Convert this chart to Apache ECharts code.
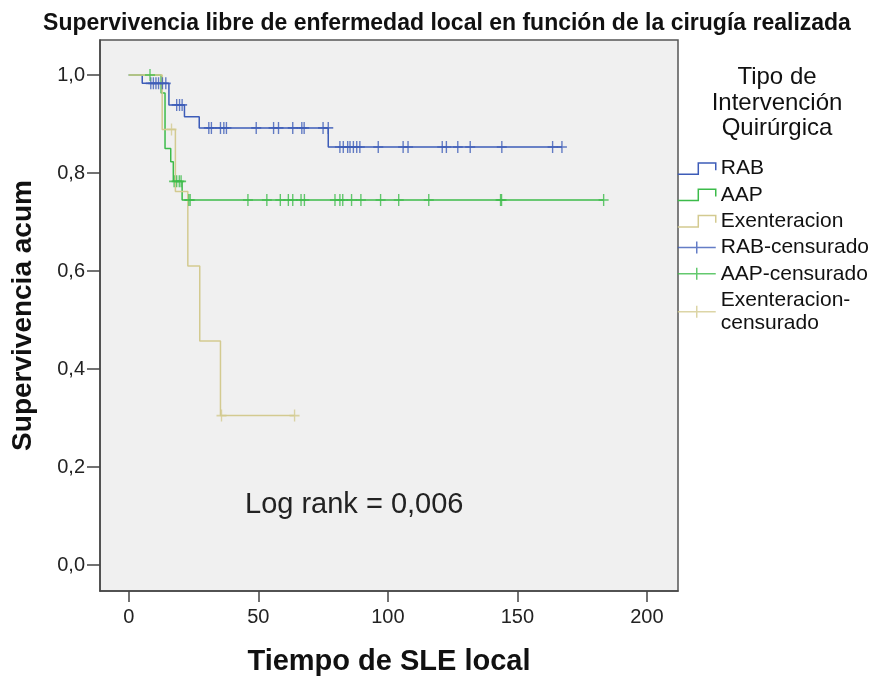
<!DOCTYPE html>
<html><head><meta charset="utf-8">
<script src="https://cdn.jsdelivr.net/npm/echarts@6/dist/echarts.min.js"></script>
<style>html,body{margin:0;padding:0;background:#fff}#c{width:880px;height:680px}</style>
</head><body><div id="c"></div>
<script>
// Kaplan-Meier step curves: [time, survival]
const rabCurve = [[0,1],[5.2,0.983],[15.5,0.939],[21.5,0.915],[27.2,0.892],[77,0.853],[167.2,0.853]];
const aapCurve = [[0,1],[12.5,0.963],[14,0.85],[16.2,0.823],[17.2,0.783],[20.6,0.745],[183.3,0.745]];
const exeCurve = [[0,1],[12.9,0.889],[18,0.762],[22.8,0.61],[27.4,0.457],[35.4,0.305],[64,0.305]];
// Censored observations: [time, survival]
const rabCensored = [[8.5,0.983],[9.5,0.983],[10.5,0.983],[11.5,0.983],[13,0.983],[14.3,0.983],
  [18.5,0.939],[19.6,0.939],[20.6,0.939],
  [30.9,0.892],[31.9,0.892],[35.4,0.892],[36.7,0.892],[37.7,0.892],[49.2,0.892],[55.9,0.892],[57.8,0.892],
  [63.3,0.892],[66.8,0.892],[67.7,0.892],[75,0.892],[77,0.892],
  [81.5,0.853],[82.8,0.853],[84.5,0.853],[85.4,0.853],[86.7,0.853],[88,0.853],[89.2,0.853],[96.3,0.853],
  [105.9,0.853],[107.8,0.853],[121,0.853],[122.6,0.853],[127,0.853],[131.8,0.853],[144,0.853],[163.6,0.853],[167.2,0.853]];
const aapCensored = [[8.2,1],[17.5,0.783],[18.5,0.783],[19.5,0.783],[20.2,0.783],
  [23.2,0.745],[23.7,0.745],[46,0.745],[53.3,0.745],[58.5,0.745],[61.6,0.745],[63.3,0.745],[66.5,0.745],[67.8,0.745],
  [79.6,0.745],[81.5,0.745],[82.6,0.745],[86,0.745],[89.6,0.745],[97.2,0.745],[104.2,0.745],[115.8,0.745],
  [143.5,0.745],[143.9,0.745],[183.3,0.745]];
const exeCensored = [[16.5,0.889],[35.8,0.305],[64,0.305]];
const xTicks = [0,50,100,150,200];
const yTicks = [0,0.2,0.4,0.6,0.8,1.0];
const seriesNames = ['RAB','AAP','Exenteracion','RAB-censurado','AAP-censurado','Exenteracion-censurado'];

const colors = {RAB:'#3d5cb8', AAP:'#3cbb4a', EXE:'#d3ca90'};
const sans = '"Liberation Sans",Arial,sans-serif';
const stepIcon = 'path://M0,11 L20,11 L20,0 L37,0 L37,7';
const plusIcon = 'path://M0,6 L38,6 M19,0 L19,12';
const plusSym = 'path://M0,6 L10,6 M5,0 L5,12';

const chart = echarts.init(document.getElementById('c'), null, {renderer:'canvas'});
function lineSeries(name, data, color){
  return {name, type:'line', step:'end', data, showSymbol:false, symbol:'none',
    lineStyle:{color, width:1.5}, itemStyle:{color}, z:2, animation:false};
}
function censSeries(name, data, color){
  return {name, type:'scatter', data, symbol:plusSym, symbolSize:[10,12],
    itemStyle:{color:'transparent', borderColor:color, borderWidth:1.5}, z:3, animation:false};
}
const legendColors = [colors.RAB, colors.AAP, colors.EXE, colors.RAB, colors.AAP, colors.EXE];
chart.setOption({
  backgroundColor:'#ffffff',
  title:[{text:'Supervivencia libre de enfermedad local en función de la cirugía realizada', left:442, top:7, textAlign:'center',
      textStyle:{fontFamily:sans, fontWeight:'bold', fontSize:23, color:'#111'}},
    {text:'Tipo de\nIntervención\nQuirúrgica', left:777, top:65, textAlign:'center', padding:0,
      textStyle:{fontFamily:sans, fontWeight:'normal', fontSize:24, lineHeight:25.5, color:'#111'}}],
  grid:{left:100, right:202, top:40, bottom:89, containLabel:false, outerBoundsMode:'none',
    show:true, backgroundColor:'#f0f0f0', borderColor:'#555', borderWidth:1.5},
  legend:{orient:'vertical', left:677, top:157, padding:0, itemWidth:38, itemHeight:12, itemGap:3,
    textStyle:{fontFamily:sans, fontSize:21, color:'#111', lineHeight:23.3},
    formatter: n => n === 'Exenteracion-censurado' ? 'Exenteracion-\ncensurado' : n,
    data: seriesNames.map((n,i)=>({name:n, icon: i<3 ? stepIcon : plusIcon,
      itemStyle:{color:'transparent', borderColor:legendColors[i], borderWidth:1.5}}))},
  xAxis:{type:'value', min:-11.1, max:212, name:'Tiempo de SLE local', nameLocation:'middle', nameGap:56,
    nameTextStyle:{fontFamily:sans, fontWeight:'bold', fontSize:29, color:'#111'},
    splitLine:{show:false},
    axisLine:{show:true, onZero:false, lineStyle:{color:'#444', width:1.5}},
    axisTick:{show:true, length:11, customValues:xTicks, lineStyle:{color:'#444', width:1.5}},
    axisLabel:{customValues:xTicks, margin:16, fontFamily:sans, fontSize:20, color:'#222'}},
  yAxis:{type:'value', min:-0.053, max:1.0714, name:'Supervivencia acum', nameLocation:'middle', nameGap:63,
    nameTextStyle:{fontFamily:sans, fontWeight:'bold', fontSize:28, color:'#111'},
    splitLine:{show:false},
    axisLine:{show:true, onZero:false, lineStyle:{color:'#444', width:1.5}},
    axisTick:{show:true, length:13, customValues:yTicks, lineStyle:{color:'#444', width:1.5}},
    axisLabel:{customValues:yTicks, margin:15, fontFamily:sans, fontSize:20, color:'#222',
      formatter: v => v.toFixed(1).replace('.', ',')}},
  graphic:[{type:'text', left:245, top:490, style:{text:'Log rank = 0,006', fontFamily:sans, fontSize:29, fill:'#222'}}],
  series:[
    lineSeries('RAB', rabCurve, colors.RAB),
    lineSeries('AAP', aapCurve, colors.AAP),
    lineSeries('Exenteracion', exeCurve, colors.EXE),
    censSeries('RAB-censurado', rabCensored, colors.RAB),
    censSeries('AAP-censurado', aapCensored, colors.AAP),
    censSeries('Exenteracion-censurado', exeCensored, colors.EXE)
  ]
});
</script></body></html>
